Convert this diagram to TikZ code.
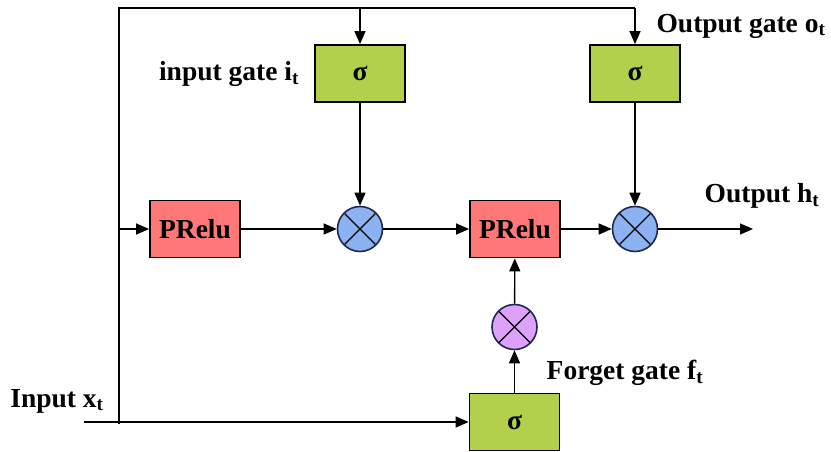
\documentclass[tikz,border=0pt]{standalone}
\usepackage{fontspec}
\setmainfont{Liberation Serif}
\usepackage{tikz}
\usetikzlibrary{arrows.meta}

\definecolor{gategreen}{RGB}{178,208,75}
\definecolor{prelured}{RGB}{255,120,120}
\definecolor{mulblue}{RGB}{140,178,242}
\definecolor{mulpurple}{RGB}{220,162,250}
\definecolor{mulline}{RGB}{30,40,80}

\begin{document}
\begin{tikzpicture}[
            x = 1pt, y = -1pt, % pixel-like units, y downwards
            > = {Triangle[length=13pt,width=11pt]}, % arrow head style
            font = \fontsize{27.5}{32}\selectfont\bfseries,
            line width = 1.4pt % line style
        ]

        \tikzstyle{gatebox}=[
            draw = black,
            line width = 1.8pt,
            fill = gategreen,
            minimum width = 90pt,
            minimum height = 57pt,
            inner sep = 0pt
        ]
        \tikzstyle{actbox}=[gatebox, fill = prelured]
        \tikzstyle{mul}=[
            circle,
            draw = mulline,
            line width = 1.6pt,
            minimum size = 45pt,
            inner sep = 0pt,
            path picture = {
                \draw[black, line width = 1.4pt]
                    (path picture bounding box.north west) -- (path picture bounding box.south east)
                    (path picture bounding box.north east) -- (path picture bounding box.south west);
            }
        ]

        \useasboundingbox (0,0) rectangle (831,452);

        % gates and blocks
        \node[gatebox] (ig) at (360,73.5) {σ};
        \node[gatebox] (og) at (635,73.5) {σ};
        \node[gatebox] (fg) at (514.5,422) {σ};
        \node[actbox] (pr1) at (195,229) {PRelu};
        \node[actbox] (pr2) at (515,229) {PRelu};
        \node[mul, fill = mulblue] (m1) at (360,229) {};
        \node[mul, fill = mulblue] (m2) at (635,229) {};
        \node[mul, fill = mulpurple] (mf) at (514.5,327) {};

        % labels
        \node (lig) at (229,74) {input gate i\textsubscript{t}};
        \node (log) at (741,26) {Output gate o\textsubscript{t}};
        \node (lout) at (762,196) {Output h\textsubscript{t}};
        \node (lfg) at (625,373) {Forget gate f\textsubscript{t}};
        \node (lin) at (57,401) {Input x\textsubscript{t}};

        \coordinate (in) at (84,422);
        \coordinate (bus) at (119,8);
        \coordinate (busend) at (119,424);
        \coordinate (out) at (753,229);

        % input bus
        \draw[->] (in) -- (fg);
        \draw (busend) -- (bus) -- (og.north |- bus);
        \draw[->] (ig.north |- bus) -- (ig);
        \draw[->] (og.north |- bus) -- (og);
        \draw[->] (bus |- pr1) -- (pr1);

        \path[->] (pr1) edge (m1);
        \path[->] (m1) edge (pr2);
        \path[->] (pr2) edge (m2);
        \path[->] (m2) edge (out);
        \path[->] (ig) edge (m1);
        \path[->] (og) edge (m2);
        \path[->] (fg) edge (mf);
        \path[->] (mf) edge (pr2);

  \end{tikzpicture}
\end{document}
